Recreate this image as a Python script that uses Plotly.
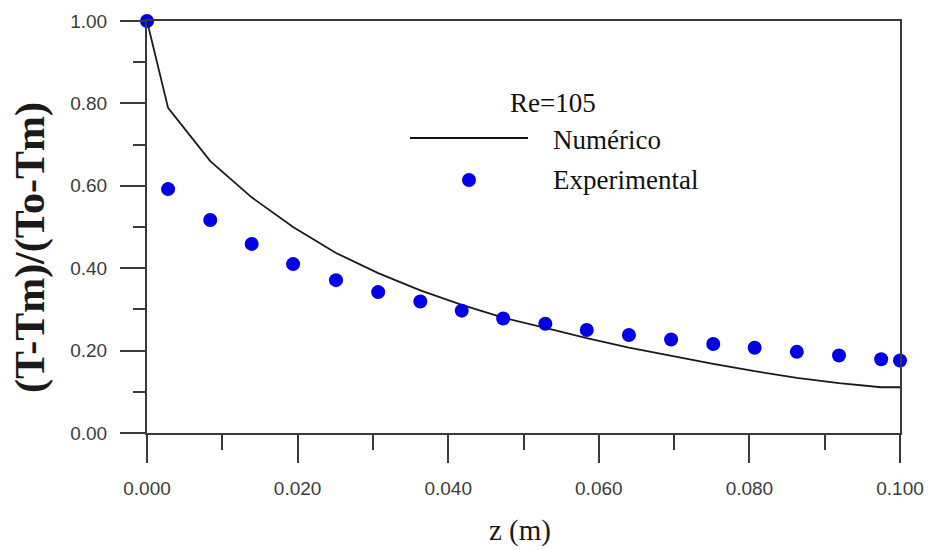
import plotly.graph_objects as go

# Experimental data (z in m, dimensionless temperature)
z_exp = [0.0, 0.0028, 0.0084, 0.0139, 0.0194, 0.0251, 0.0307, 0.0363, 0.0418,
         0.0473, 0.0529, 0.0584, 0.0640, 0.0696, 0.0752, 0.0807, 0.0863,
         0.0919, 0.0975, 0.1000]
theta_exp = [1.00, 0.592, 0.517, 0.459, 0.410, 0.371, 0.342, 0.319, 0.297,
             0.278, 0.265, 0.250, 0.238, 0.227, 0.216, 0.207, 0.197,
             0.188, 0.179, 0.176]

# Numerical solution
z_num = [0.0, 0.0028, 0.0084, 0.0139, 0.0194, 0.0251, 0.0307, 0.0363, 0.0418,
         0.0473, 0.0529, 0.0584, 0.0640, 0.0696, 0.0752, 0.0807, 0.0863,
         0.0919, 0.0975, 0.1000]
theta_num = [1.00, 0.789, 0.660, 0.572, 0.500, 0.437, 0.388, 0.346, 0.311,
             0.280, 0.255, 0.230, 0.207, 0.187, 0.168, 0.150, 0.134,
             0.121, 0.111, 0.111]

x_ticks = [0.0, 0.02, 0.04, 0.06, 0.08, 0.10]
x_labels = ["0.000", "0.020", "0.040", "0.060", "0.080", "0.100"]
y_ticks = [0.0, 0.2, 0.4, 0.6, 0.8, 1.0]
y_labels = ["0.00", "0.20", "0.40", "0.60", "0.80", "1.00"]

legend_title = "Re=105"
name_num = "Numérico"
name_exp = "Experimental"
x_title = "z (m)"
y_title = "<b>(T-Tm)/(To-Tm)</b>"

W, H = 929, 550
L, R, T, B = 147, 29, 21, 117
pw, ph = W - L - R, H - T - B

def px(xp):
    return (xp - L) / pw

def py(yp):
    return (H - B - yp) / ph

axis_color = "#3a3a3a"
tick_font = dict(family="Liberation Sans, Arial", size=19, color="#3c3c3c")
serif = "Liberation Serif, Times New Roman"

fig = go.Figure()
fig.add_trace(go.Scatter(x=z_num, y=theta_num, mode="lines", name=name_num,
                         line=dict(color="#1a1a1a", width=1.8),
                         showlegend=False, cliponaxis=False))
fig.add_trace(go.Scatter(x=z_exp, y=theta_exp, mode="markers", name=name_exp,
                         marker=dict(color="#0000e6", size=14),
                         showlegend=False, cliponaxis=False))

# Legend built by hand
fig.add_shape(type="line", xref="paper", yref="paper",
              x0=px(410), x1=px(528), y0=py(138), y1=py(138),
              line=dict(color="#111111", width=2))
fig.add_shape(type="circle", xref="paper", yref="paper",
              xsizemode="pixel", ysizemode="pixel",
              xanchor=px(469), yanchor=py(180), x0=-7, x1=7, y0=-7, y1=7,
              fillcolor="#0000e6", line=dict(color="#0000e6", width=0))
leg_font = dict(family=serif, size=27, color="#111111")
fig.add_annotation(text=legend_title, xref="paper", yref="paper", x=px(508), y=py(103),
                   xanchor="left", yanchor="middle", showarrow=False, font=leg_font)
fig.add_annotation(text=name_num, xref="paper", yref="paper", x=px(551), y=py(140),
                   xanchor="left", yanchor="middle", showarrow=False, font=leg_font)
fig.add_annotation(text=name_exp, xref="paper", yref="paper", x=px(551), y=py(180),
                   xanchor="left", yanchor="middle", showarrow=False, font=leg_font)

# Axis titles
fig.add_annotation(text=x_title, xref="paper", yref="paper", x=px(520), y=py(530),
                   xanchor="center", yanchor="middle", showarrow=False,
                   font=dict(family=serif, size=29, color="#1a1a1a"))
fig.add_annotation(text=y_title, xref="paper", yref="paper", x=px(30), y=py(248),
                   xanchor="center", yanchor="middle", showarrow=False, textangle=-90,
                   font=dict(family=serif, size=42, color="#1a1a1a"))

fig.update_xaxes(range=[0, 0.1], tickvals=x_ticks, ticktext=x_labels,
                 showline=True, mirror=True, linecolor=axis_color, linewidth=2,
                 ticks="outside", ticklen=28, tickwidth=2, tickcolor=axis_color,
                 minor=dict(dtick=0.01, tick0=0, ticks="outside", ticklen=15,
                            tickwidth=2, tickcolor=axis_color, showgrid=False),
                 showgrid=False, zeroline=False, tickfont=tick_font,
                 ticklabelstandoff=9)
fig.update_yaxes(range=[0, 1.0], tickvals=y_ticks, ticktext=y_labels,
                 showline=True, mirror=True, linecolor=axis_color, linewidth=2,
                 ticks="outside", ticklen=25, tickwidth=2, tickcolor=axis_color,
                 minor=dict(dtick=0.1, tick0=0, ticks="outside", ticklen=12,
                            tickwidth=2, tickcolor=axis_color, showgrid=False),
                 showgrid=False, zeroline=False, tickfont=tick_font,
                 ticklabelstandoff=9)

fig.update_layout(width=W, height=H, margin=dict(l=L, r=R, t=T, b=B, autoexpand=False),
                  paper_bgcolor="white", plot_bgcolor="white", showlegend=False)

fig.write_html("out.html", config={"displayModeBar": False},
               post_script="document.body.style.margin='0px';"
                           "document.body.style.overflow='hidden';")
